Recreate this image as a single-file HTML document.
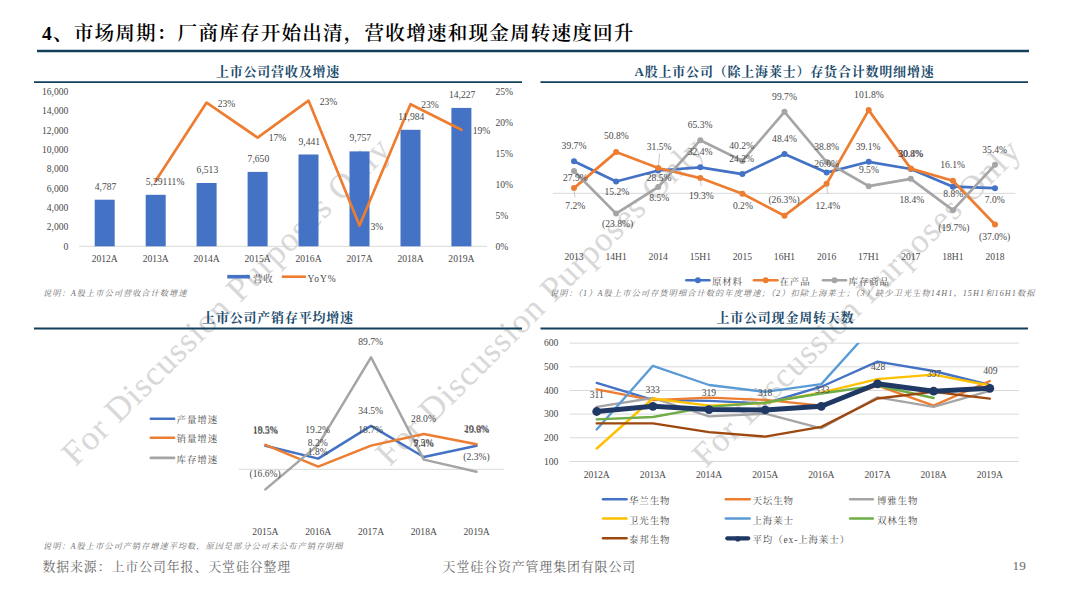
<!DOCTYPE html>
<html lang="zh-CN"><head><meta charset="utf-8"><title>市场周期</title>
<style>
html,body{margin:0;padding:0;background:#fff;}
body{width:1080px;height:595px;overflow:hidden;font-family:"Liberation Serif","Noto Serif CJK SC",serif;}
svg{display:block;position:absolute;left:0;top:0;}
text{font-family:"Liberation Serif","Noto Serif CJK SC",serif;}
.title{font-size:19.6px;letter-spacing:1.18px;font-weight:600;fill:#000;}
.sec{font-size:13px;letter-spacing:0.8px;font-weight:700;fill:#1d4c6d;}
.d{font-size:9.6px;fill:#4a4a4a;}
.lg{font-size:9.5px;letter-spacing:0.85px;fill:#4a4a4a;}
.note{font-size:8.2px;font-style:italic;fill:#6a6a6a;}
.foot{font-size:12.9px;letter-spacing:0.93px;fill:#686868;}
.wm{font-size:34.5px;fill:#d8d8d8;}
</style></head><body>
<svg width="1080" height="595" viewBox="0 0 1080 595">
<rect width="1080" height="595" fill="#fff"/>

<text class="wm" text-anchor="middle" transform="translate(226.5,302) rotate(-44.9)" x="0" y="10.5" textLength="447" lengthAdjust="spacing">For Discussion Purposes Only</text>
<text class="wm" text-anchor="middle" transform="translate(540.5,302) rotate(-44.9)" x="0" y="10.5" textLength="447" lengthAdjust="spacing">For Discussion Purposes Only</text>
<text class="wm" text-anchor="middle" transform="translate(856.8,303.6) rotate(-44.9)" x="0" y="10.5" textLength="447" lengthAdjust="spacing">For Discussion Purposes Only</text>
<text x="42.0" y="39.6" class="title" text-anchor="start" >4、市场周期：厂商库存开始出清，营收增速和现金周转速度回升</text>
<line x1="37.0" y1="51.0" x2="1029.0" y2="51.0" stroke="#123f5c" stroke-width="2.5" />
<text x="278.0" y="76.0" class="sec" text-anchor="middle" >上市公司营收及增速</text>
<line x1="34.0" y1="82.2" x2="522.0" y2="82.2" stroke="#123f5c" stroke-width="1.8" />
<text x="784.5" y="76.0" class="sec" text-anchor="middle" >A股上市公司（除上海莱士）存货合计数明细增速</text>
<line x1="540.5" y1="82.2" x2="1028.0" y2="82.2" stroke="#123f5c" stroke-width="1.8" />
<text x="278.0" y="322.3" class="sec" text-anchor="middle" >上市公司产销存平均增速</text>
<line x1="34.0" y1="328.5" x2="522.0" y2="328.5" stroke="#123f5c" stroke-width="1.8" />
<text x="785.4" y="322.3" class="sec" text-anchor="middle" >上市公司现金周转天数</text>
<line x1="540.5" y1="328.5" x2="1028.0" y2="328.5" stroke="#123f5c" stroke-width="1.8" />
<text x="68.3" y="249.8" class="d" text-anchor="end" >0</text>
<text x="68.3" y="230.4" class="d" text-anchor="end" >2,000</text>
<text x="68.3" y="211.0" class="d" text-anchor="end" >4,000</text>
<text x="68.3" y="191.7" class="d" text-anchor="end" >6,000</text>
<text x="68.3" y="172.3" class="d" text-anchor="end" >8,000</text>
<text x="68.3" y="152.9" class="d" text-anchor="end" >10,000</text>
<text x="68.3" y="133.5" class="d" text-anchor="end" >12,000</text>
<text x="68.3" y="114.1" class="d" text-anchor="end" >14,000</text>
<text x="68.3" y="94.8" class="d" text-anchor="end" >16,000</text>
<text x="495.5" y="249.8" class="d" text-anchor="start" >0%</text>
<text x="495.5" y="218.8" class="d" text-anchor="start" >5%</text>
<text x="495.5" y="187.8" class="d" text-anchor="start" >10%</text>
<text x="495.5" y="156.8" class="d" text-anchor="start" >15%</text>
<text x="495.5" y="125.8" class="d" text-anchor="start" >20%</text>
<text x="495.5" y="94.8" class="d" text-anchor="start" >25%</text>
<line x1="79.2" y1="246.3" x2="487.0" y2="246.3" stroke="#d9d9d9" stroke-width="1" />
<rect x="94.7" y="199.7" width="20" height="46.6" fill="#4472c4"/>
<rect x="145.7" y="194.8" width="20" height="51.5" fill="#4472c4"/>
<rect x="196.6" y="183.0" width="20" height="63.3" fill="#4472c4"/>
<rect x="247.6" y="171.9" width="20" height="74.4" fill="#4472c4"/>
<rect x="298.5" y="154.5" width="20" height="91.8" fill="#4472c4"/>
<rect x="349.5" y="151.4" width="20" height="94.9" fill="#4472c4"/>
<rect x="400.5" y="129.8" width="20" height="116.5" fill="#4472c4"/>
<rect x="451.4" y="107.9" width="20" height="138.4" fill="#4472c4"/>
<polyline points="155.7,180.8 206.6,102.6 257.6,137.6 308.5,100.6 359.5,225.5 410.5,104.2 461.4,129.8" fill="none" stroke="#ed7d31" stroke-width="2.7" stroke-linejoin="round" stroke-linecap="round" />
<text x="105.5" y="189.7" class="d" text-anchor="middle" >4,787</text>
<text x="156.5" y="184.8" class="d" text-anchor="middle" >5,291</text>
<text x="207.4" y="173.0" class="d" text-anchor="middle" >6,513</text>
<text x="258.4" y="161.9" class="d" text-anchor="middle" >7,650</text>
<text x="309.3" y="144.5" class="d" text-anchor="middle" >9,441</text>
<text x="360.3" y="141.4" class="d" text-anchor="middle" >9,757</text>
<text x="411.3" y="119.8" class="d" text-anchor="middle" >11,984</text>
<text x="462.2" y="97.9" class="d" text-anchor="middle" >14,227</text>
<text x="175.8" y="184.8" class="d" text-anchor="middle" >11%</text>
<text x="226.5" y="106.7" class="d" text-anchor="middle" >23%</text>
<text x="277.5" y="140.5" class="d" text-anchor="middle" >17%</text>
<text x="328.5" y="104.7" class="d" text-anchor="middle" >23%</text>
<text x="376.8" y="229.5" class="d" text-anchor="middle" >3%</text>
<text x="430.0" y="107.7" class="d" text-anchor="middle" >23%</text>
<text x="481.5" y="134.2" class="d" text-anchor="middle" >19%</text>
<text x="104.7" y="262.0" class="d" text-anchor="middle" >2012A</text>
<text x="155.7" y="262.0" class="d" text-anchor="middle" >2013A</text>
<text x="206.6" y="262.0" class="d" text-anchor="middle" >2014A</text>
<text x="257.6" y="262.0" class="d" text-anchor="middle" >2015A</text>
<text x="308.5" y="262.0" class="d" text-anchor="middle" >2016A</text>
<text x="359.5" y="262.0" class="d" text-anchor="middle" >2017A</text>
<text x="410.5" y="262.0" class="d" text-anchor="middle" >2018A</text>
<text x="461.4" y="262.0" class="d" text-anchor="middle" >2019A</text>
<rect x="227.3" y="274.9" width="22.6" height="3.6" fill="#4472c4"/>
<text x="253.0" y="282.2" class="lg" text-anchor="start" >营收</text>
<line x1="281.8" y1="276.7" x2="305.9" y2="276.7" stroke="#ed7d31" stroke-width="2.6" />
<text x="307.6" y="282.0" class="lg" text-anchor="start" >YoY%</text>
<text x="43.0" y="296.0" class="note" text-anchor="start" textLength="143.5" lengthAdjust="spacing">说明：A股上市公司营收合计数增速</text>
<line x1="553.0" y1="193.3" x2="1015.5" y2="193.3" stroke="#d9d9d9" stroke-width="1" />
<polyline points="574.0,161.3 616.1,181.5 658.2,170.5 700.3,167.3 742.4,174.1 784.5,154.1 826.6,172.6 868.7,161.8 910.8,169.0 952.9,186.7 995.0,188.2" fill="none" stroke="#4472c4" stroke-width="2.7" stroke-linejoin="round" stroke-linecap="round" />
<circle cx="574.0" cy="161.3" r="3" fill="#4472c4"/>
<circle cx="616.1" cy="181.5" r="3" fill="#4472c4"/>
<circle cx="658.2" cy="170.5" r="3" fill="#4472c4"/>
<circle cx="700.3" cy="167.3" r="3" fill="#4472c4"/>
<circle cx="742.4" cy="174.1" r="3" fill="#4472c4"/>
<circle cx="784.5" cy="154.1" r="3" fill="#4472c4"/>
<circle cx="826.6" cy="172.6" r="3" fill="#4472c4"/>
<circle cx="868.7" cy="161.8" r="3" fill="#4472c4"/>
<circle cx="910.8" cy="169.0" r="3" fill="#4472c4"/>
<circle cx="952.9" cy="186.7" r="3" fill="#4472c4"/>
<circle cx="995.0" cy="188.2" r="3" fill="#4472c4"/>
<polyline points="574.0,188.1 616.1,152.1 658.2,168.0 700.3,178.1 742.4,193.8 784.5,215.7 826.6,183.8 868.7,110.1 910.8,168.6 952.9,180.7 995.0,224.5" fill="none" stroke="#ed7d31" stroke-width="2.7" stroke-linejoin="round" stroke-linecap="round" />
<circle cx="574.0" cy="188.1" r="3" fill="#ed7d31"/>
<circle cx="616.1" cy="152.1" r="3" fill="#ed7d31"/>
<circle cx="658.2" cy="168.0" r="3" fill="#ed7d31"/>
<circle cx="700.3" cy="178.1" r="3" fill="#ed7d31"/>
<circle cx="742.4" cy="193.8" r="3" fill="#ed7d31"/>
<circle cx="784.5" cy="215.7" r="3" fill="#ed7d31"/>
<circle cx="826.6" cy="183.8" r="3" fill="#ed7d31"/>
<circle cx="868.7" cy="110.1" r="3" fill="#ed7d31"/>
<circle cx="910.8" cy="168.6" r="3" fill="#ed7d31"/>
<circle cx="952.9" cy="180.7" r="3" fill="#ed7d31"/>
<circle cx="995.0" cy="224.5" r="3" fill="#ed7d31"/>
<polyline points="574.0,171.0 616.1,213.6 658.2,187.0 700.3,140.2 742.4,160.9 784.5,111.8 826.6,162.0 868.7,186.2 910.8,178.8 952.9,210.2 995.0,164.8" fill="none" stroke="#a5a5a5" stroke-width="2.7" stroke-linejoin="round" stroke-linecap="round" />
<circle cx="574.0" cy="171.0" r="3" fill="#a5a5a5"/>
<circle cx="616.1" cy="213.6" r="3" fill="#a5a5a5"/>
<circle cx="658.2" cy="187.0" r="3" fill="#a5a5a5"/>
<circle cx="700.3" cy="140.2" r="3" fill="#a5a5a5"/>
<circle cx="742.4" cy="160.9" r="3" fill="#a5a5a5"/>
<circle cx="784.5" cy="111.8" r="3" fill="#a5a5a5"/>
<circle cx="826.6" cy="162.0" r="3" fill="#a5a5a5"/>
<circle cx="868.7" cy="186.2" r="3" fill="#a5a5a5"/>
<circle cx="910.8" cy="178.8" r="3" fill="#a5a5a5"/>
<circle cx="952.9" cy="210.2" r="3" fill="#a5a5a5"/>
<circle cx="995.0" cy="164.8" r="3" fill="#a5a5a5"/>
<line x1="574.0" y1="190.0" x2="575.0" y2="197.5" stroke="#a6a6a6" stroke-width="0.6" />
<line x1="659.5" y1="153.5" x2="658.5" y2="166.0" stroke="#a6a6a6" stroke-width="0.6" />
<line x1="700.2" y1="179.5" x2="701.3" y2="186.0" stroke="#a6a6a6" stroke-width="0.6" />
<line x1="826.6" y1="185.0" x2="827.8" y2="194.0" stroke="#a6a6a6" stroke-width="0.6" />
<text x="574.0" y="148.9" class="d" text-anchor="middle" >39.7%</text>
<text x="616.4" y="139.3" class="d" text-anchor="middle" >50.8%</text>
<text x="659.2" y="149.7" class="d" text-anchor="middle" >31.5%</text>
<text x="700.1" y="128.0" class="d" text-anchor="middle" >65.3%</text>
<text x="700.1" y="155.2" class="d" text-anchor="middle" >32.4%</text>
<text x="741.7" y="148.9" class="d" text-anchor="middle" >40.2%</text>
<text x="741.7" y="161.5" class="d" text-anchor="middle" >24.2%</text>
<text x="784.5" y="99.8" class="d" text-anchor="middle" >99.7%</text>
<text x="784.5" y="142.1" class="d" text-anchor="middle" >48.4%</text>
<text x="575.3" y="181.2" class="d" text-anchor="middle" >27.9%</text>
<text x="616.9" y="194.8" class="d" text-anchor="middle" >15.2%</text>
<text x="659.2" y="181.2" class="d" text-anchor="middle" >28.5%</text>
<text x="659.2" y="201.3" class="d" text-anchor="middle" >8.5%</text>
<text x="701.3" y="198.6" class="d" text-anchor="middle" >19.3%</text>
<text x="742.9" y="208.7" class="d" text-anchor="middle" >0.2%</text>
<text x="784.0" y="203.0" class="d" text-anchor="middle" >(26.3%)</text>
<text x="575.3" y="208.9" class="d" text-anchor="middle" >7.2%</text>
<text x="617.6" y="226.8" class="d" text-anchor="middle" >(23.8%)</text>
<text x="868.9" y="97.7" class="d" text-anchor="middle" >101.8%</text>
<text x="826.6" y="149.7" class="d" text-anchor="middle" >38.8%</text>
<text x="868.1" y="149.7" class="d" text-anchor="middle" >39.1%</text>
<text x="910.5" y="156.5" class="d" text-anchor="middle" >30.8%</text>
<text x="910.9" y="156.7" class="d" text-anchor="middle" >30.4%</text>
<text x="952.6" y="168.3" class="d" text-anchor="middle" >16.1%</text>
<text x="994.7" y="152.7" class="d" text-anchor="middle" >35.4%</text>
<text x="826.6" y="167.3" class="d" text-anchor="middle" >26.0%</text>
<text x="868.9" y="173.4" class="d" text-anchor="middle" >9.5%</text>
<text x="827.8" y="208.7" class="d" text-anchor="middle" >12.4%</text>
<text x="911.8" y="203.1" class="d" text-anchor="middle" >18.4%</text>
<text x="953.3" y="196.8" class="d" text-anchor="middle" >8.8%</text>
<text x="994.7" y="202.6" class="d" text-anchor="middle" >7.0%</text>
<text x="953.9" y="231.1" class="d" text-anchor="middle" >(19.7%)</text>
<text x="994.7" y="239.9" class="d" text-anchor="middle" >(37.0%)</text>
<text x="574.0" y="259.6" class="d" text-anchor="middle" >2013</text>
<text x="616.1" y="259.6" class="d" text-anchor="middle" >14H1</text>
<text x="658.2" y="259.6" class="d" text-anchor="middle" >2014</text>
<text x="700.3" y="259.6" class="d" text-anchor="middle" >15H1</text>
<text x="742.4" y="259.6" class="d" text-anchor="middle" >2015</text>
<text x="784.5" y="259.6" class="d" text-anchor="middle" >16H1</text>
<text x="826.6" y="259.6" class="d" text-anchor="middle" >2016</text>
<text x="868.7" y="259.6" class="d" text-anchor="middle" >17H1</text>
<text x="910.8" y="259.6" class="d" text-anchor="middle" >2017</text>
<text x="952.9" y="259.6" class="d" text-anchor="middle" >18H1</text>
<text x="995.0" y="259.6" class="d" text-anchor="middle" >2018</text>
<line x1="686.4" y1="280.3" x2="709.4" y2="280.3" stroke="#4472c4" stroke-width="2.6" stroke-linecap="round"/>
<circle cx="697.9" cy="280.3" r="3" fill="#4472c4"/>
<text x="711.9" y="284.7" class="lg" text-anchor="start" >原材料</text>
<line x1="754.0" y1="280.3" x2="777.4" y2="280.3" stroke="#ed7d31" stroke-width="2.6" stroke-linecap="round"/>
<circle cx="765.7" cy="280.3" r="3" fill="#ed7d31"/>
<text x="779.5" y="284.7" class="lg" text-anchor="start" >在产品</text>
<line x1="823.0" y1="280.3" x2="846.0" y2="280.3" stroke="#a5a5a5" stroke-width="2.6" stroke-linecap="round"/>
<circle cx="834.5" cy="280.3" r="3" fill="#a5a5a5"/>
<text x="848.5" y="284.7" class="lg" text-anchor="start" >库存商品</text>
<text x="550.0" y="295.6" class="note" text-anchor="start" textLength="484.5" lengthAdjust="spacing">说明：（1）A股上市公司存货明细合计数的年度增速；（2）扣除上海莱士；（3）缺少卫光生物14H1、15H1和16H1数据</text>
<line x1="238.7" y1="469.3" x2="503.8" y2="469.3" stroke="#d9d9d9" stroke-width="1" />
<polyline points="265.4,445.8 318.2,458.6 371.0,425.9 423.8,457.0 476.6,445.7" fill="none" stroke="#4472c4" stroke-width="2.5" stroke-linejoin="round" stroke-linecap="round" />
<polyline points="265.4,444.8 318.2,466.6 371.0,445.6 423.8,434.0 476.6,444.2" fill="none" stroke="#ed7d31" stroke-width="2.5" stroke-linejoin="round" stroke-linecap="round" />
<polyline points="265.4,489.4 318.2,444.9 371.0,357.3 423.8,459.6 476.6,471.7" fill="none" stroke="#a5a5a5" stroke-width="2.5" stroke-linejoin="round" stroke-linecap="round" />
<text x="370.7" y="345.4" class="d" text-anchor="middle" >89.7%</text>
<text x="370.7" y="414.2" class="d" text-anchor="middle" >34.5%</text>
<text x="370.7" y="433.2" class="d" text-anchor="middle" >18.7%</text>
<text x="317.7" y="432.8" class="d" text-anchor="middle" >19.2%</text>
<text x="317.7" y="446.4" class="d" text-anchor="middle" >8.2%</text>
<text x="317.7" y="454.6" class="d" text-anchor="middle" >1.8%</text>
<text x="265.1" y="433.4" class="d" text-anchor="middle" >18.5%</text>
<text x="265.5" y="434.2" class="d" text-anchor="middle" >19.3%</text>
<text x="265.2" y="476.6" class="d" text-anchor="middle" >(16.6%)</text>
<text x="476.5" y="459.9" class="d" text-anchor="middle" >(2.3%)</text>
<text x="423.5" y="421.6" class="d" text-anchor="middle" >28.0%</text>
<text x="423.4" y="445.6" class="d" text-anchor="middle" >9.5%</text>
<text x="423.8" y="447.2" class="d" text-anchor="middle" >7.4%</text>
<text x="476.3" y="432.4" class="d" text-anchor="middle" >20.0%</text>
<text x="476.8" y="433.1" class="d" text-anchor="middle" >19.8%</text>
<text x="265.4" y="534.8" class="d" text-anchor="middle" >2015A</text>
<text x="318.2" y="534.8" class="d" text-anchor="middle" >2016A</text>
<text x="371.0" y="534.8" class="d" text-anchor="middle" >2017A</text>
<text x="423.8" y="534.8" class="d" text-anchor="middle" >2018A</text>
<text x="476.6" y="534.8" class="d" text-anchor="middle" >2019A</text>
<line x1="150.8" y1="418.8" x2="174.1" y2="418.8" stroke="#4472c4" stroke-width="2.6" stroke-linecap="round"/>
<text x="176.6" y="423.4" class="lg" text-anchor="start" >产量增速</text>
<line x1="150.8" y1="437.7" x2="174.1" y2="437.7" stroke="#ed7d31" stroke-width="2.6" stroke-linecap="round"/>
<text x="176.6" y="442.3" class="lg" text-anchor="start" >销量增速</text>
<line x1="150.8" y1="457.9" x2="174.1" y2="457.9" stroke="#a5a5a5" stroke-width="2.6" stroke-linecap="round"/>
<text x="176.6" y="462.5" class="lg" text-anchor="start" >库存增速</text>
<text x="43.0" y="549.0" class="note" text-anchor="start" textLength="299.5" lengthAdjust="spacing">说明：A股上市公司产销存增速平均数，原因是部分公司未公布产销存明细</text>
<line x1="569.7" y1="461.5" x2="1018.8" y2="461.5" stroke="#d9d9d9" stroke-width="1" />
<text x="558.3" y="464.7" class="d" text-anchor="end" >100</text>
<line x1="569.7" y1="437.8" x2="1018.8" y2="437.8" stroke="#d9d9d9" stroke-width="1" />
<text x="558.3" y="441.0" class="d" text-anchor="end" >200</text>
<line x1="569.7" y1="414.1" x2="1018.8" y2="414.1" stroke="#d9d9d9" stroke-width="1" />
<text x="558.3" y="417.3" class="d" text-anchor="end" >300</text>
<line x1="569.7" y1="390.5" x2="1018.8" y2="390.5" stroke="#d9d9d9" stroke-width="1" />
<text x="558.3" y="393.7" class="d" text-anchor="end" >400</text>
<line x1="569.7" y1="366.8" x2="1018.8" y2="366.8" stroke="#d9d9d9" stroke-width="1" />
<text x="558.3" y="370.0" class="d" text-anchor="end" >500</text>
<line x1="569.7" y1="343.1" x2="1018.8" y2="343.1" stroke="#d9d9d9" stroke-width="1" />
<text x="558.3" y="346.3" class="d" text-anchor="end" >600</text>
<clipPath id="c4"><rect x="560" y="343.1" width="470" height="130"/></clipPath>
<polyline points="596.7,382.9 652.9,399.9 709.0,400.9 765.2,403.5 821.3,386.7 877.5,361.6 933.6,371.0 989.8,385.0" fill="none" stroke="#4472c4" stroke-width="2.35" stroke-linejoin="round" stroke-linecap="round" clip-path="url(#c4)"/>
<polyline points="596.7,389.3 652.9,400.2 709.0,397.6 765.2,399.9 821.3,405.6 877.5,385.7 933.6,405.6 989.8,381.0" fill="none" stroke="#ed7d31" stroke-width="2.35" stroke-linejoin="round" stroke-linecap="round" clip-path="url(#c4)"/>
<polyline points="596.7,406.8 652.9,398.0 709.0,416.3 765.2,413.7 821.3,428.3 877.5,397.3 933.6,406.8 989.8,390.9" fill="none" stroke="#a5a5a5" stroke-width="2.35" stroke-linejoin="round" stroke-linecap="round" clip-path="url(#c4)"/>
<polyline points="596.7,448.5 652.9,398.5 709.0,405.6 765.2,403.0 821.3,392.6 877.5,379.1 933.6,374.6 989.8,385.5" fill="none" stroke="#ffc000" stroke-width="2.35" stroke-linejoin="round" stroke-linecap="round" clip-path="url(#c4)"/>
<polyline points="596.7,429.5 652.9,365.8 709.0,385.0 765.2,391.9 821.3,384.1 877.5,321.8" fill="none" stroke="#5b9bd5" stroke-width="2.35" stroke-linejoin="round" stroke-linecap="round" clip-path="url(#c4)"/>
<polyline points="596.7,419.3 652.9,417.0 709.0,406.8 765.2,402.5 821.3,393.5 877.5,385.5 933.6,398.0" fill="none" stroke="#70ad47" stroke-width="2.35" stroke-linejoin="round" stroke-linecap="round" clip-path="url(#c4)"/>
<polyline points="596.7,423.4 652.9,423.4 709.0,432.1 765.2,436.6 821.3,426.9 877.5,398.5 933.6,391.9 989.8,398.7" fill="none" stroke="#9e480e" stroke-width="2.35" stroke-linejoin="round" stroke-linecap="round" clip-path="url(#c4)"/>
<polyline points="596.7,411.5 652.9,406.3 709.0,409.6 765.2,409.9 821.3,406.3 877.5,383.8 933.6,391.2 989.8,388.3" fill="none" stroke="#203864" stroke-width="5" stroke-linejoin="round" stroke-linecap="round" />
<circle cx="596.7" cy="411.5" r="4.4" fill="#203864"/>
<circle cx="652.9" cy="406.3" r="4.4" fill="#203864"/>
<circle cx="709.0" cy="409.6" r="4.4" fill="#203864"/>
<circle cx="765.2" cy="409.9" r="4.4" fill="#203864"/>
<circle cx="821.3" cy="406.3" r="4.4" fill="#203864"/>
<circle cx="877.5" cy="383.8" r="4.4" fill="#203864"/>
<circle cx="933.6" cy="391.2" r="4.4" fill="#203864"/>
<circle cx="989.8" cy="388.3" r="4.4" fill="#203864"/>
<text x="596.7" y="397.5" class="d" text-anchor="middle" >311</text>
<text x="652.7" y="392.5" class="d" text-anchor="middle" >333</text>
<text x="708.9" y="395.8" class="d" text-anchor="middle" >319</text>
<text x="765.1" y="395.8" class="d" text-anchor="middle" >318</text>
<text x="822.3" y="392.5" class="d" text-anchor="middle" >333</text>
<text x="878.2" y="369.8" class="d" text-anchor="middle" >428</text>
<text x="934.2" y="376.9" class="d" text-anchor="middle" >397</text>
<text x="990.4" y="374.3" class="d" text-anchor="middle" >409</text>
<text x="596.7" y="478.2" class="d" text-anchor="middle" >2012A</text>
<text x="652.9" y="478.2" class="d" text-anchor="middle" >2013A</text>
<text x="709.0" y="478.2" class="d" text-anchor="middle" >2014A</text>
<text x="765.2" y="478.2" class="d" text-anchor="middle" >2015A</text>
<text x="821.3" y="478.2" class="d" text-anchor="middle" >2016A</text>
<text x="877.5" y="478.2" class="d" text-anchor="middle" >2017A</text>
<text x="933.6" y="478.2" class="d" text-anchor="middle" >2018A</text>
<text x="989.8" y="478.2" class="d" text-anchor="middle" >2019A</text>
<line x1="603.0" y1="499.2" x2="626.5" y2="499.2" stroke="#4472c4" stroke-width="2.5" stroke-linecap="round"/>
<text x="629.0" y="504.2" class="lg" text-anchor="start" >华兰生物</text>
<line x1="725.8" y1="499.2" x2="749.7" y2="499.2" stroke="#ed7d31" stroke-width="2.5" stroke-linecap="round"/>
<text x="752.5" y="504.2" class="lg" text-anchor="start" >天坛生物</text>
<line x1="850.1" y1="499.2" x2="872.8" y2="499.2" stroke="#a5a5a5" stroke-width="2.5" stroke-linecap="round"/>
<text x="876.9" y="504.2" class="lg" text-anchor="start" >博雅生物</text>
<line x1="603.0" y1="518.6" x2="626.5" y2="518.6" stroke="#ffc000" stroke-width="2.5" stroke-linecap="round"/>
<text x="629.0" y="523.6" class="lg" text-anchor="start" >卫光生物</text>
<line x1="725.8" y1="518.6" x2="749.7" y2="518.6" stroke="#5b9bd5" stroke-width="2.5" stroke-linecap="round"/>
<text x="752.5" y="523.6" class="lg" text-anchor="start" >上海莱士</text>
<line x1="850.1" y1="518.6" x2="872.8" y2="518.6" stroke="#70ad47" stroke-width="2.5" stroke-linecap="round"/>
<text x="876.9" y="523.6" class="lg" text-anchor="start" >双林生物</text>
<line x1="603.0" y1="538.3" x2="626.5" y2="538.3" stroke="#9e480e" stroke-width="2.5" stroke-linecap="round"/>
<text x="629.0" y="543.3" class="lg" text-anchor="start" >泰邦生物</text>
<line x1="727.3" y1="538.3" x2="748.2" y2="538.3" stroke="#203864" stroke-width="4.2" stroke-linecap="round"/>
<circle cx="737.8" cy="538.9" r="2.6" fill="#203864"/>
<text x="752.5" y="543.3" class="lg" text-anchor="start" >平均（ex-上海莱士）</text>
<text x="42.4" y="571.4" class="foot" text-anchor="start" >数据来源：上市公司年报、天堂硅谷整理</text>
<text x="442.6" y="570.6" class="foot" text-anchor="start" >天堂硅谷资产管理集团有限公司</text>
<text x="1019.2" y="570.0" class="foot" text-anchor="middle" style="letter-spacing:0;font-size:13.2px">19</text>
</svg></body></html>
